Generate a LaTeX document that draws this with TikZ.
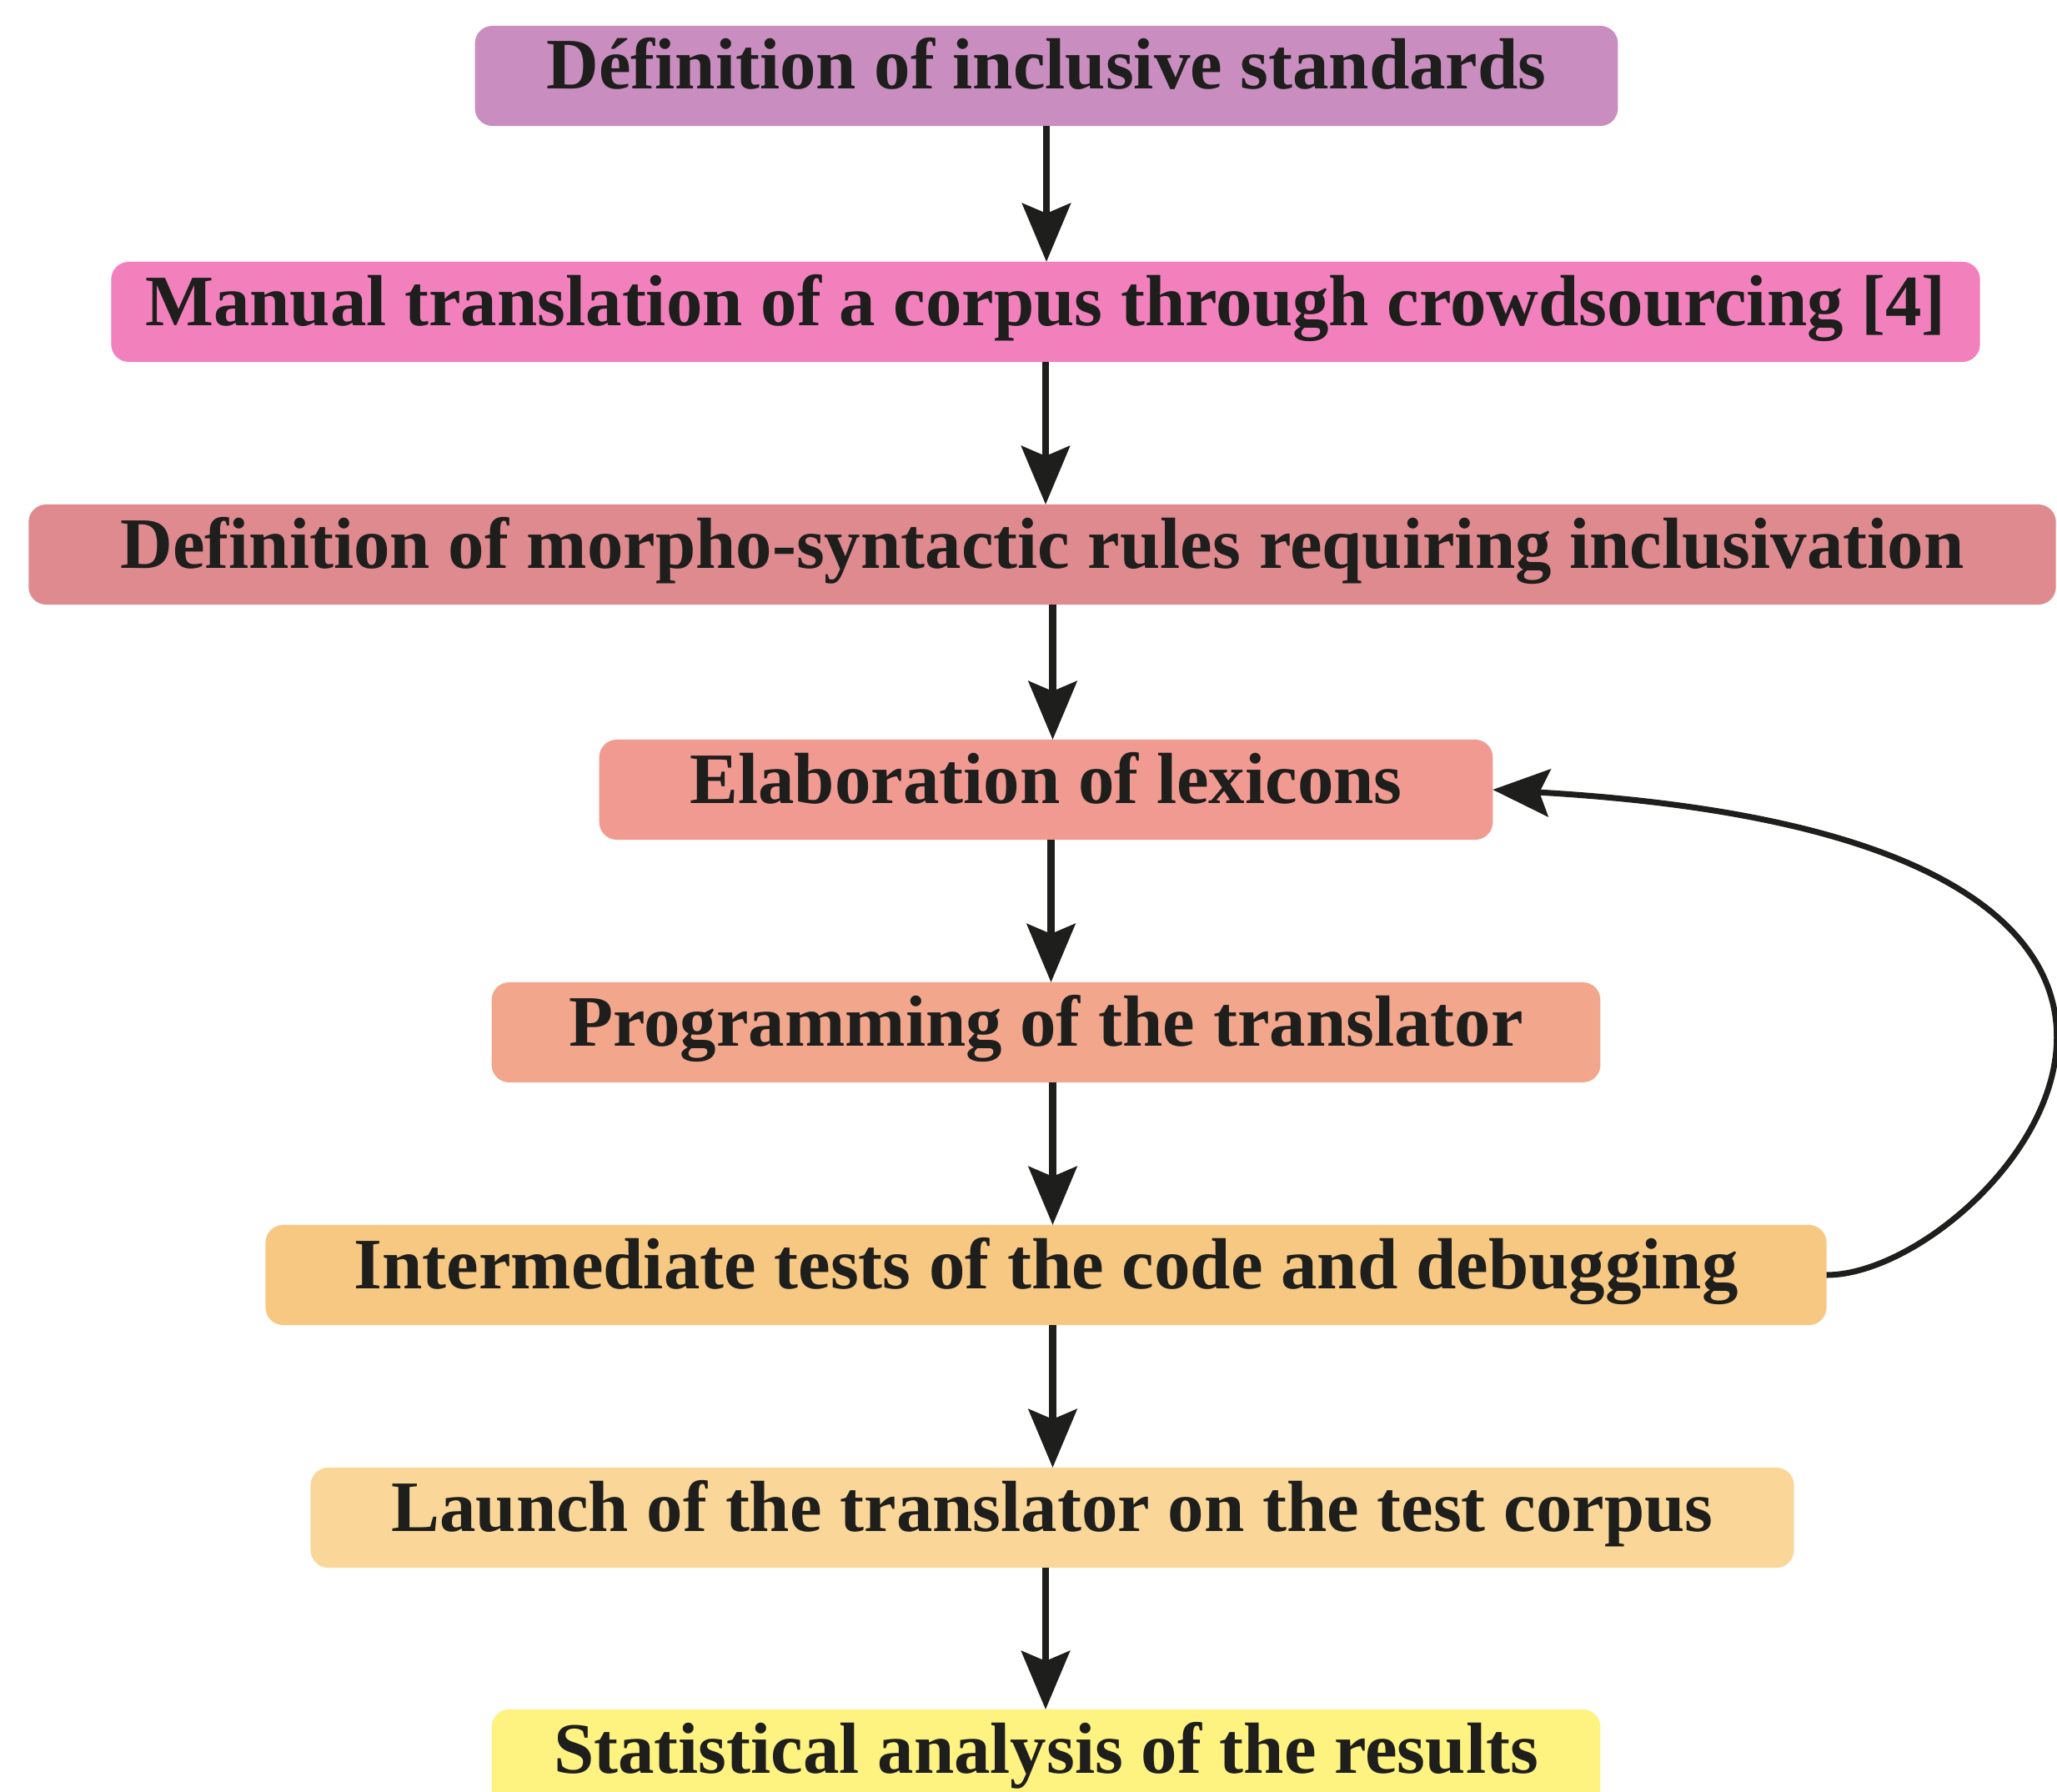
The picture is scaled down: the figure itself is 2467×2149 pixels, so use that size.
\documentclass[tikz,border=0pt]{standalone}
\usepackage{fontspec}
\setmainfont{Liberation Serif}
\usetikzlibrary{arrows.meta}
\definecolor{cA}{HTML}{C98DC0}
\definecolor{cB}{HTML}{F280BD}
\definecolor{cC}{HTML}{DE8A8F}
\definecolor{cD}{HTML}{F19A92}
\definecolor{cE}{HTML}{F2A78D}
\definecolor{cF}{HTML}{F7C882}
\definecolor{cG}{HTML}{FAD798}
\definecolor{cH}{HTML}{FEF280}
\definecolor{ink}{HTML}{1E1E1C}
\tikzset{
  box/.style={rectangle, rounded corners=6pt, draw=none, minimum height=1.2cm,
    text height=0.5cm, text depth=0.18cm, inner sep=0pt, outer sep=0pt,
    text=ink, font=\fontsize{24.7}{29}\selectfont\bfseries},
  arr/.style={draw=ink, line width=2.3pt, -{Stealth[length=0.7cm, width=0.58cm, inset=0.12cm]}},
  loop/.style={draw=ink, line width=2pt, -{Stealth[length=0.68cm, width=0.57cm, inset=0.12cm]}}
}
\begin{document}
\begin{tikzpicture}[x=0.01cm, y=-0.01cm]
\useasboundingbox (0,0) rectangle (2467,2149);
\node[box, fill=cA, minimum width=13.70cm] (n1) at (1255,91) {Définition of inclusive standards};
\node[box, fill=cB, minimum width=22.40cm] (n2) at (1254,374) {Manual translation of a corpus through crowdsourcing [4]};
\node[box, fill=cC, minimum width=24.30cm] (n3) at (1250,665) {Definition of morpho-syntactic rules requiring inclusivation};
\node[box, fill=cD, minimum width=10.71cm] (n4) at (1254.5,947) {Elaboration of lexicons};
\node[box, fill=cE, minimum width=13.29cm] (n5) at (1254.5,1238) {Programming of the translator};
\node[box, fill=cF, minimum width=18.71cm] (n6) at (1254.5,1529) {Intermediate tests of the code and debugging};
\node[box, fill=cG, minimum width=17.78cm] (n7) at (1262,1820) {Launch of the translator on the test corpus};
\node[box, fill=cH, minimum width=13.29cm] (n8) at (1254.5,2110) {Statistical analysis of the results};
\draw[arr] (n1.south) -- (n1.south |- n2.north);
\draw[arr] (n2.south) -- (n2.south |- n3.north);
\draw[arr] ([xshift=0.08cm]n4.north |- n3.south) -- ([xshift=0.08cm]n4.north);
\draw[arr] ([xshift=0.06cm]n4.south) -- ([xshift=0.06cm]n4.south |- n5.north);
\draw[arr] ([xshift=0.08cm]n5.south) -- ([xshift=0.08cm]n5.south |- n6.north);
\draw[arr] ([xshift=0.08cm]n6.south) -- ([xshift=0.08cm]n6.south |- n7.north);
\draw[arr] ([xshift=-0.08cm]n7.south) -- ([xshift=-0.08cm]n7.south |- n8.north);
\draw[loop] (n6.east) .. controls +(200,0) and +(1050,60) .. (n4.east);
\end{tikzpicture}
\end{document}
